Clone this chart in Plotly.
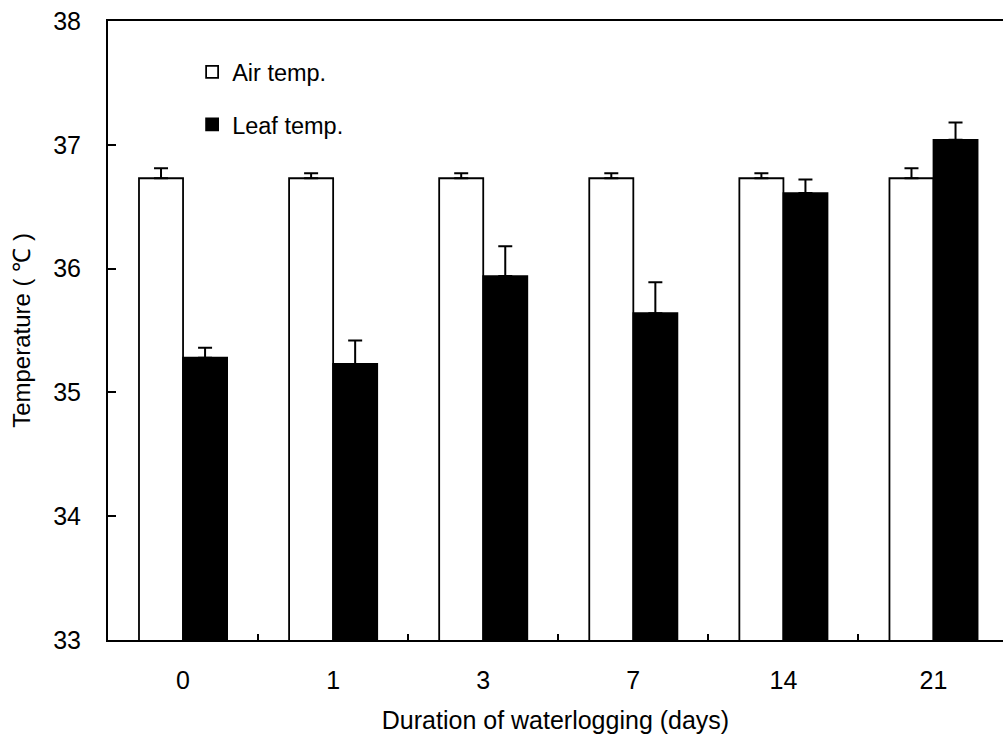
import plotly.graph_objects as go

categories = ["0", "1", "3", "7", "14", "21"]
air_temp = [36.73, 36.73, 36.73, 36.73, 36.73, 36.73]
air_err = [0.08, 0.04, 0.04, 0.04, 0.04, 0.08]
leaf_temp = [35.28, 35.23, 35.94, 35.64, 36.61, 37.04]
leaf_err = [0.08, 0.19, 0.24, 0.25, 0.11, 0.14]

FONT = "Liberation Sans, Arial, sans-serif"

fig = go.Figure()
fig.add_trace(go.Bar(
    x=categories, y=air_temp, name="Air temp.", legendgroup="a",
    marker=dict(color="white", line=dict(color="black", width=1.8)),
    error_y=dict(type="data", array=air_err, arrayminus=[0]*6, symmetric=False,
                 color="black", thickness=2, width=7),
))
fig.add_trace(go.Bar(
    x=categories, y=leaf_temp, name="Leaf temp.", legendgroup="b",
    marker=dict(color="black", line=dict(color="black", width=1.8)),
    error_y=dict(type="data", array=leaf_err, arrayminus=[0]*6, symmetric=False,
                 color="black", thickness=2, width=7),
))

fig.update_layout(
    width=1003, height=745,
    margin=dict(l=108, r=0, t=21, b=105),
    paper_bgcolor="white", plot_bgcolor="white",
    font=dict(family=FONT, size=25, color="black"),
    barmode="group", bargap=0.413, bargroupgap=0,
    showlegend=True,
    legend=dict(x=0.094, y=0.953, xanchor="left", yanchor="top",
                bgcolor="rgba(0,0,0,0)", tracegroupgap=19,
                font=dict(family=FONT, size=23.5, color="black")),
    xaxis=dict(
        type="category", range=[-0.5, 5.463],
        showline=True, linecolor="black", linewidth=2, mirror=True,
        ticks="inside", ticklen=6, tickwidth=1.5, tickcolor="black",
        tickson="boundaries", showgrid=False, zeroline=False,
        ticklabelstandoff=17,
        tickfont=dict(family=FONT, size=25),
        title=dict(text="Duration of waterlogging (days)", standoff=18,
                   font=dict(family=FONT, size=25)),
    ),
    yaxis=dict(
        range=[33, 38], tickvals=[33, 34, 35, 36, 37, 38],
        showline=True, linecolor="black", linewidth=2,
        ticks="inside", ticklen=8, tickwidth=1.5, tickcolor="black",
        showgrid=False, zeroline=False, ticklabelstandoff=20,
        tickfont=dict(family=FONT, size=25),
        title=dict(text="Temperature ( ℃ )", standoff=16,
                   font=dict(family=FONT, size=24)),
    ),
)

fig.write_html("out.html")
